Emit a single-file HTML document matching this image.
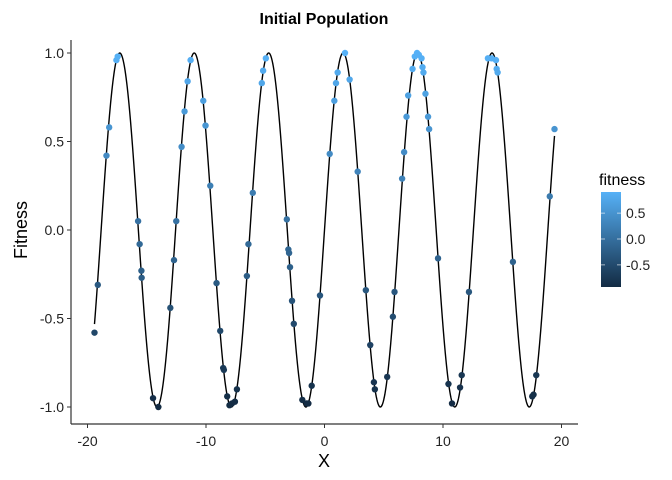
<!DOCTYPE html>
<html><head><meta charset="utf-8"><style>
body{margin:0;background:#fff;}
svg{display:block;font-family:"Liberation Sans",Arial,sans-serif;}
</style></head><body>
<svg id="chart" width="672" height="480" viewBox="0 0 672 480">
<rect width="672" height="480" fill="#fff"/>
<text x="324" y="24" text-anchor="middle" font-size="16" font-weight="bold">Initial Population</text>
<g id="curve-g"></g>
<g id="pts"></g>
<g id="axes"></g>
<text x="324" y="467" text-anchor="middle" font-size="18">X</text>
<text transform="translate(27,230) rotate(-90)" text-anchor="middle" font-size="18">Fitness</text>
<g>
<text x="599" y="185" font-size="16">fitness</text>
<defs><linearGradient id="grad" x1="0" y1="0" x2="0" y2="1"><stop offset="0" stop-color="#56B1F7"/><stop offset="1" stop-color="#132B43"/></linearGradient></defs>
<rect x="601" y="192" width="20" height="95" fill="url(#grad)"/>
<g id="legend-ticks"></g>
</g>
</svg>
<script>
const xs=[-19.41,-19.13,-18.40,-18.17,-17.56,-17.45,-15.73,-15.60,-15.45,-15.43,-14.47,-14.02,-13.01,-12.70,-12.51,-12.06,-11.81,-11.55,-11.30,-10.23,-10.04,-9.64,-9.11,-8.80,-8.55,-8.49,-8.21,-8.02,-7.81,-7.56,-7.39,-6.55,-6.42,-6.05,-5.29,-5.18,-4.95,-3.18,-3.05,-2.99,-2.91,-2.74,-2.59,-1.87,-1.50,-1.36,-1.08,-0.38,0.44,0.83,0.97,1.11,1.73,2.12,2.80,3.49,3.86,4.17,4.25,5.29,5.77,5.91,6.55,6.72,6.92,7.06,7.43,7.62,7.81,7.96,8.19,8.27,8.35,8.52,8.74,8.83,9.58,10.46,10.76,11.44,11.58,12.19,13.79,14.11,14.47,14.53,14.61,15.90,17.53,17.64,17.87,19.01,19.41];
const fitness=[-0.58,-0.31,0.42,0.58,0.96,0.98,0.05,-0.08,-0.23,-0.27,-0.95,-1.00,-0.44,-0.17,0.05,0.47,0.67,0.84,0.96,0.73,0.59,0.25,-0.30,-0.57,-0.78,-0.79,-0.94,-0.99,-0.98,-0.97,-0.90,-0.26,-0.08,0.21,0.83,0.90,0.97,0.06,-0.11,-0.13,-0.21,-0.40,-0.53,-0.96,-0.98,-0.98,-0.88,-0.37,0.43,0.73,0.83,0.89,1.00,0.85,0.33,-0.34,-0.65,-0.86,-0.90,-0.83,-0.49,-0.35,0.29,0.44,0.64,0.76,0.91,0.98,1.00,0.99,0.97,0.92,0.89,0.77,0.64,0.57,-0.16,-0.87,-0.98,-0.89,-0.82,-0.35,0.97,0.97,0.96,0.91,0.89,-0.18,-0.94,-0.93,-0.82,0.19,0.57];
const xTicks=[-20,-10,0,10,20];
const yTicks=[-1.0,-0.5,0.0,0.5,1.0];
const legendTicks=[-0.5,0.0,0.5];

const NS="http://www.w3.org/2000/svg";
const sx=v=>324.5+11.85*v;
const sy=v=>230-177*v;
function mk(tag,attrs,parent){const e=document.createElementNS(NS,tag);for(const k in attrs)e.setAttribute(k,attrs[k]);parent.appendChild(e);return e;}
function col(v){let t=(v+1)/2;t=Math.max(0,Math.min(1,t));const a=[0x13,0x2B,0x43],b=[0x56,0xB1,0xF7];return `rgb(${a.map((c,i)=>Math.round(c+(b[i]-c)*t)).join(',')})`;}

// curve (model function)
let d="";for(let i=0;i<=800;i++){const x=Math.min(...xs)+i*(Math.max(...xs)-Math.min(...xs))/800;d+=(i?"L":"M")+sx(x).toFixed(2)+","+sy(Math.sin(x)).toFixed(2);}
const cg=document.getElementById('curve-g');
const cp=mk('path',{d:d,fill:'none',stroke:'#000','stroke-width':1.4},cg);



const pg=document.getElementById('pts');
xs.forEach((x,i)=>{const c=mk('circle',{cx:sx(x),cy:sy(fitness[i]),r:3.2,fill:col(fitness[i])},pg);

});

const ax=document.getElementById('axes');
const xl=mk('line',{x1:71,y1:424,x2:578,y2:424,stroke:'#333','stroke-width':1.2},ax);


const yl=mk('line',{x1:71,y1:40,x2:71,y2:424,stroke:'#333','stroke-width':1.2},ax);


xTicks.forEach(v=>{mk('line',{x1:sx(v),x2:sx(v),y1:424,y2:428,stroke:'#333'},ax);
const t=mk('text',{x:sx(v),y:446,'text-anchor':'middle','font-size':14,fill:'#222'},ax);t.textContent=v;

});
yTicks.forEach(v=>{mk('line',{x1:67,x2:71,y1:sy(v),y2:sy(v),stroke:'#333'},ax);
const t=mk('text',{x:64,y:sy(v)+5,'text-anchor':'end','font-size':14,fill:'#222'},ax);t.textContent=v.toFixed(1);

});
const lg=document.getElementById('legend-ticks');
legendTicks.forEach(v=>{const y=239-51.7*v;
mk('line',{x1:601,x2:605,y1:y,y2:y,stroke:'#fff','stroke-opacity':0.6},lg);
mk('line',{x1:617,x2:621,y1:y,y2:y,stroke:'#fff','stroke-opacity':0.6},lg);
const t=mk('text',{x:626,y:y+5,'font-size':14,fill:'#222'},lg);t.textContent=v.toFixed(1);

});
</script>
</body></html>
